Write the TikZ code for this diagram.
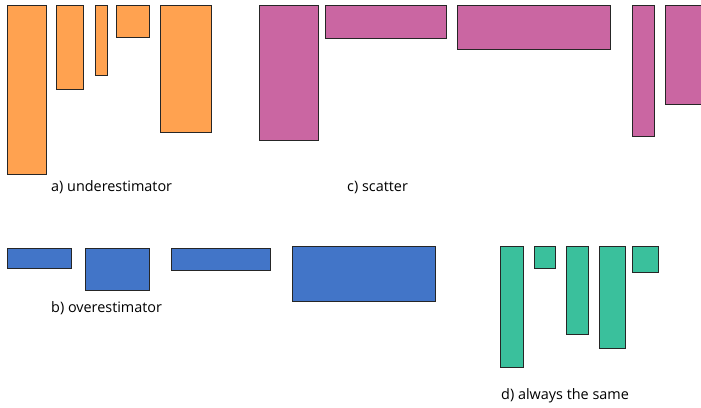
\documentclass[tikz,border=0pt]{standalone}
\usepackage{fontspec}
\setmainfont{Open Sans}
\definecolor{cor}{RGB}{255,162,80}
\definecolor{cpk}{RGB}{202,102,162}
\definecolor{cbl}{RGB}{66,117,200}
\definecolor{cgr}{RGB}{58,192,156}
\tikzset{
  bar/.style={draw=black!85, line width=1pt},
  lab/.style={inner sep=0pt, anchor=base west, font=\fontsize{14.4}{17}\selectfont}
}
\begin{document}
\begin{tikzpicture}[x=1pt,y=-1pt]
\useasboundingbox (0,0) rectangle (701,407);
\begin{scope}
\clip (0,0) rectangle (701,407);
% a) underestimator
\draw[bar,fill=cor] (7,5) rectangle (46,174);
\draw[bar,fill=cor] (56,5) rectangle (83,89);
\draw[bar,fill=cor] (95,5) rectangle (107,75);
\draw[bar,fill=cor] (116,5) rectangle (149,37);
\draw[bar,fill=cor] (160,5) rectangle (211,132);
% c) scatter
\draw[bar,fill=cpk] (259,5) rectangle (318,140);
\draw[bar,fill=cpk] (325,5) rectangle (446,38);
\draw[bar,fill=cpk] (457,5) rectangle (610,49);
\draw[bar,fill=cpk] (632,5) rectangle (654,136);
\draw[bar,fill=cpk] (665,5) rectangle (720,104);
% b) overestimator
\draw[bar,fill=cbl] (7,248) rectangle (71,268);
\draw[bar,fill=cbl] (85,248) rectangle (149,290);
\draw[bar,fill=cbl] (171,248) rectangle (270,270);
\draw[bar,fill=cbl] (292,246) rectangle (435,301);
% d) always the same
\draw[bar,fill=cgr] (500,246) rectangle (523,367);
\draw[bar,fill=cgr] (534,246) rectangle (555,268);
\draw[bar,fill=cgr] (566,246) rectangle (588,334);
\draw[bar,fill=cgr] (599,246) rectangle (625,348);
\draw[bar,fill=cgr] (632,246) rectangle (658,272);
\end{scope}
\node[lab] (la) at (51,191) {a) underestimator};
\node[lab] (lc) at (347,191) {c) scatter};
\node[lab] (lb) at (51,312) {b) overestimator};
\node[lab] (ld) at (501,399) {d) always the same};
\end{tikzpicture}
\end{document}
